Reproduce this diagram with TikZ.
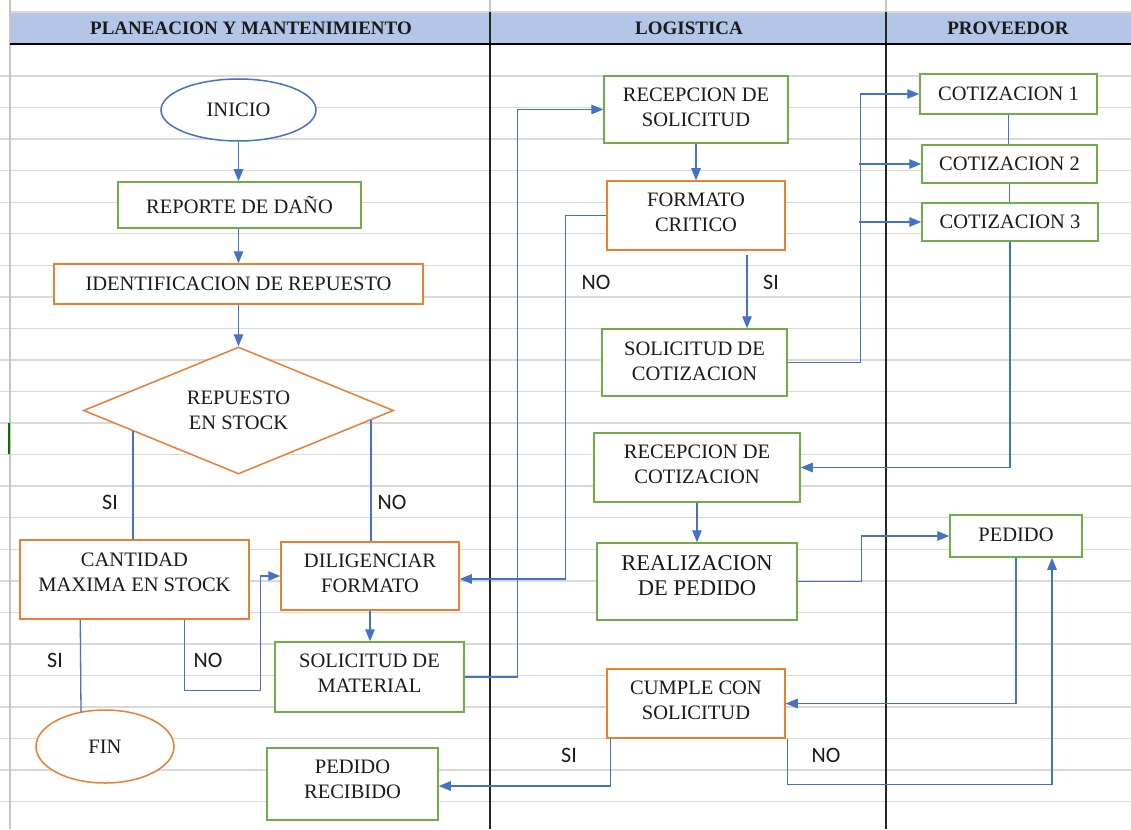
\documentclass[tikz,border=0pt]{standalone}
\usepackage{fontspec}
\setmainfont{Liberation Serif}
\newfontfamily\labfont{Carlito}
\usetikzlibrary{arrows.meta,shapes.geometric,calc}
\definecolor{lineblue}{HTML}{4472C4}
\definecolor{boxgreen}{HTML}{70AD47}
\definecolor{boxorange}{HTML}{ED7D31}
\definecolor{gridgray}{HTML}{D9D9D9}
\definecolor{headblue}{HTML}{B4C6E7}
\definecolor{txtcol}{HTML}{1A1A1A}
\begin{document}
\begin{tikzpicture}[x=1pt,y=-1pt,
  gbox/.style={draw=boxgreen, fill=white, line width=1.5pt, inner sep=0pt},
  obox/.style={draw=boxorange, fill=white, line width=1.5pt, inner sep=0pt},
  txt/.style={font=\fontsize{20.5}{25}\selectfont, text=txtcol, align=center, inner sep=0pt},
  lab/.style={font=\labfont\fontsize{22}{26}\selectfont, text=txtcol, inner sep=0pt},
  arr/.style={draw=lineblue, line width=1.3pt, -{Triangle[length=12pt,width=9.5pt]}},
  ln/.style={draw=lineblue, line width=1.3pt},
  hdr/.style={font=\bfseries\fontsize{19}{22}\selectfont, text=txtcol, inner sep=0pt}
]
% background and spreadsheet grid
\fill[white] (0,0) rectangle (1131,829);
\useasboundingbox (0,0) rectangle (1131,829);
\foreach \k in {1,...,24}
  \draw[gridgray, line width=1.4pt] (0,{44.45+31.55*\k}) -- (1131,{44.45+31.55*\k});
\fill[headblue] (10,12) rectangle (1131,44);
\draw[gridgray, line width=1.4pt] (10,12) -- (1131,12);
\draw[gray!45, line width=1.6pt] (10,0) -- (10,829);
\draw[gray!45, line width=1.4pt] (490,0) -- (490,12);
\draw[gray!45, line width=1.4pt] (886,0) -- (886,12);
\draw[black!85, line width=1.4pt] (490,12) -- (490,829);
\draw[black!85, line width=1.4pt] (886,12) -- (886,829);
\draw[black, line width=2.6pt] (10,44) -- (1131,44);
\draw[green!45!black, line width=2pt] (9,423) -- (9,454);

\node[hdr] (h1) at (251,28) {PLANEACION Y MANTENIMIENTO};
\node[hdr] (h2) at (689,28) {LOGISTICA};
\node[hdr] (h3) at (1008,28) {PROVEEDOR};

% PLANEACION Y MANTENIMIENTO
\node[ellipse, draw=lineblue, fill=white, line width=1.5pt, minimum width=155pt, minimum height=62pt, inner sep=0pt, txt] (ini) at (238.5,110) {INICIO};
\node[gbox, minimum width=243pt, minimum height=46pt] (rep) at (239.5,205) {};
\node[txt] (rep-t) at (239.5,205) {REPORTE DE DAÑO};
\node[obox, minimum width=369pt, minimum height=40pt] (ident) at (238.5,284) {};
\node[txt] (ident-t) at (238.5,284) {IDENTIFICACION DE REPUESTO};
\node[diamond, aspect=2.44, draw=boxorange, fill=white, line width=1.5pt, minimum width=310pt, minimum height=127pt, inner sep=0pt, txt] (dia) at (238.5,410.5) {REPUESTO\\EN STOCK};
\node[obox, minimum width=229pt, minimum height=79pt] (cant) at (134.5,579.5) {};
\node[txt] (cant-t) at (134.5,572) {CANTIDAD\\MAXIMA EN STOCK};
\node[obox, minimum width=178pt, minimum height=68pt] (dilig) at (370,576) {};
\node[txt] (dilig-t) at (370,573) {DILIGENCIAR\\FORMATO};
\node[gbox, minimum width=189pt, minimum height=70pt] (solmat) at (369.5,677) {};
\node[txt] (solmat-t) at (369.5,673) {SOLICITUD DE\\MATERIAL};
\node[ellipse, draw=boxorange, fill=white, line width=1.5pt, minimum width=138pt, minimum height=73pt, inner sep=0pt, txt] (fin) at (105,746.5) {FIN};
\node[gbox, minimum width=171pt, minimum height=72pt] (pedrec) at (352.5,784) {};
\node[txt] (pedrec-t) at (352.5,779.5) {PEDIDO\\RECIBIDO};

% LOGISTICA
\node[gbox, minimum width=184pt, minimum height=67pt] (recsol) at (696,109.5) {};
\node[txt] (recsol-t) at (696,107.5) {RECEPCION DE\\SOLICITUD};
\node[obox, minimum width=178pt, minimum height=69pt] (formc) at (696,215.5) {};
\node[txt] (formc-t) at (696,212.5) {FORMATO\\CRITICO};
\node[gbox, minimum width=185pt, minimum height=67pt] (solcot) at (694.5,362.5) {};
\node[txt] (solcot-t) at (694.5,361) {SOLICITUD DE\\COTIZACION};
\node[gbox, minimum width=206pt, minimum height=69pt] (reccot) at (697,467.5) {};
\node[txt] (reccot-t) at (697,464.5) {RECEPCION DE\\COTIZACION};
\node[gbox, minimum width=200pt, minimum height=77pt] (realiz) at (697,581.5) {};
\node[txt, font=\fontsize{22.5}{25}\selectfont] (realiz-t) at (697,575.5) {REALIZACION\\DE PEDIDO};
\node[obox, minimum width=178pt, minimum height=69pt] (cumple) at (696,703.5) {};
\node[txt] (cumple-t) at (696,700.5) {CUMPLE CON\\SOLICITUD};

% PROVEEDOR
\node[gbox, minimum width=177pt, minimum height=40pt, txt] (cot1) at (1008.5,94) {COTIZACION 1};
\node[gbox, minimum width=175pt, minimum height=38pt, txt] (cot2) at (1009.5,164) {COTIZACION 2};
\node[gbox, minimum width=176pt, minimum height=38pt, txt] (cot3) at (1010,222) {COTIZACION 3};
\node[gbox, minimum width=132pt, minimum height=42pt] (pedido) at (1016,536) {};
\node[txt] (pedido-t) at (1016,535) {PEDIDO};

% connectors
\draw[arr] (ini.south) -- (rep.north -| ini.south);
\draw[arr] (rep.south -| ini.south) -- (ident.north -| ini.south);
\draw[arr] (ident.south -| ini.south) -- (dia.north);
\coordinate (dsi) at ($(dia.west)!0.3226!(dia.south)$);
\draw[ln] (dsi) -- (dsi |- cant.north);
\coordinate (dno) at ($(dia.east)!0.15!(dia.south)$);
\draw[ln] (dno) -- (dno |- dilig.north);
\draw[ln] ($(cant.south west)+(61,0)$) -- ($(fin.center)+(-24,-34.2)$);
\draw[arr] ($(cant.south west)+(165,0)$) -- ++(0,71) -- ++(76,0) |- (dilig.west);
\draw[arr] (dilig.south) -- (dilig.south |- solmat.north);
\draw[arr] (solmat.east) -- ++(53,0) |- (recsol.west);
\draw[arr] (recsol.south) -- (formc.north);
\draw[arr] (formc.west) -- ++(-41,0) |- ($(dilig.east)+(0,3)$);
\coordinate (fsi) at ($(formc.south)+(51,4)$);
\draw[arr] (fsi) -- (fsi |- solcot.north);
\draw[arr] (solcot.east) -- ++(73,0) |- (cot1.west);
\coordinate (vb) at ($(solcot.east)+(71,0)$);
\draw[arr] (vb |- cot2.west) -- (cot2.west);
\draw[arr] (vb |- cot3.west) -- (cot3.west);
\draw[ln] (cot1.south) -- (cot1.south |- cot2.north);
\draw[ln] (cot2.south) -- (cot2.south |- cot3.north);
\draw[arr] (cot3.south) |- (reccot.east);
\draw[arr] (reccot.south) -- (realiz.north);
\draw[arr] (realiz.east) -- ++(64,0) |- (pedido.west);
\draw[arr] (pedido.south) |- (cumple.east);
\coordinate (csi) at ($(cumple.south west)+(4,0)$);
\draw[arr] (csi) |- ($(pedrec.east)+(0,2)$);
\coordinate (cno) at ($(cumple.south east)+(2,0)$);
\draw[arr] (cno) -- ++(0,46) -| ($(pedido.south)+(36,0)$);

% labels
\node[lab] (l1) at (110,502) {SI};
\node[lab] (l2) at (392,502) {NO};
\node[lab] (l3) at (55,660) {SI};
\node[lab] (l4) at (208,660) {NO};
\node[lab] (l5) at (596,282) {NO};
\node[lab] (l6) at (771,282) {SI};
\node[lab] (l7) at (569,755) {SI};
\node[lab] (l8) at (826,755) {NO};
\end{tikzpicture}
\end{document}
